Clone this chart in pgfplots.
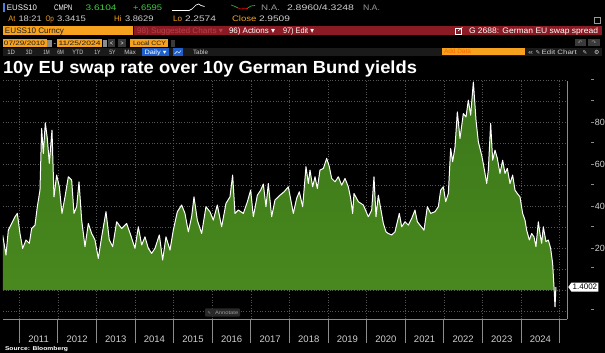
\documentclass[border=0pt]{standalone}
\usepackage{pgfplots}
\pgfplotsset{compat=1.18}
\usepackage{pgfplotstable}
\usepackage{fontspec}
\setmainfont{Liberation Sans}
\newfontfamily\dejavu{DejaVu Sans}
\usetikzlibrary{shapes.symbols}
\newcommand{\hfit}[2]{\resizebox{#1}{\height}{#2}}
\newcommand\tx[6]{\node[anchor=base west,inner sep=0pt,outer sep=0pt,text=#4,font={#5}] at (#1,-#2) {\hfit{#3pt}{#6}};}
\newcommand\fa{\fontsize{8}{9}\selectfont}
\newcommand\fb{\fontsize{6.3}{7}\selectfont}
\definecolor{bborange}{HTML}{F6A21E}
\definecolor{bbred}{HTML}{8A1A23}
\definecolor{bbgreen}{HTML}{3FCF3F}
\definecolor{axgrey}{HTML}{8C8C8C}
\definecolor{gridgrey}{HTML}{555555}
\definecolor{txtgrey}{HTML}{D0D0D0}
\definecolor{dimgrey}{HTML}{9A9A9A}
\definecolor{bbblue}{HTML}{1E5FCC}
\definecolor{filltop}{HTML}{3B761A}
\definecolor{fillbot}{HTML}{4A8A1E}
\definecolor{darkband}{HTML}{1A1A1A}
\definecolor{btn}{HTML}{3A3A3A}
\definecolor{dimred}{HTML}{B8404A}
\definecolor{darktxt}{HTML}{1E1E1E}
\newcommand\ytl[1]{\textcolor{axgrey}{\rule[2.4pt]{3pt}{0.8pt}}\hspace{0.8pt}#1}

\pgfplotstableread{
yr val
2010.569 26.3
2010.655 16.7
2010.716 28.6
2010.802 31.8
2010.889 35.0
2010.949 36.6
2011.018 27.0
2011.087 19.9
2011.174 23.9
2011.260 22.3
2011.320 29.4
2011.407 31.0
2011.467 39.8
2011.536 47.7
2011.579 77.2
2011.623 65.2
2011.674 79.9
2011.726 72.4
2011.778 60.5
2011.847 76.4
2011.899 44.5
2011.968 54.9
2012.037 49.3
2012.106 36.6
2012.184 44.5
2012.270 54.1
2012.357 52.5
2012.417 36.6
2012.486 39.8
2012.547 51.7
2012.616 33.4
2012.702 20.7
2012.788 31.8
2012.875 27.0
2012.961 23.9
2013.047 15.1
2013.134 25.4
2013.246 37.4
2013.332 23.9
2013.419 20.7
2013.522 32.6
2013.652 29.4
2013.781 31.8
2013.885 26.3
2013.997 19.9
2014.084 30.2
2014.170 21.5
2014.256 25.4
2014.343 19.9
2014.429 17.5
2014.515 19.9
2014.628 26.3
2014.714 14.3
2014.800 25.4
2014.904 19.1
2014.990 28.6
2015.094 37.4
2015.206 40.6
2015.292 36.6
2015.379 27.8
2015.465 35.0
2015.526 44.5
2015.612 33.4
2015.724 27.0
2015.836 39.8
2015.940 37.4
2016.026 33.4
2016.130 40.6
2016.242 30.2
2016.355 41.4
2016.458 44.5
2016.527 54.9
2016.588 36.6
2016.674 38.2
2016.804 36.6
2016.908 42.1
2016.994 47.7
2017.063 35.0
2017.167 45.3
2017.253 47.7
2017.322 50.6
2017.391 39.8
2017.451 50.9
2017.538 35.0
2017.624 43.0
2017.754 45.3
2017.858 46.9
2017.970 49.3
2018.099 36.6
2018.185 43.8
2018.254 46.9
2018.341 39.8
2018.427 58.9
2018.488 50.9
2018.531 57.3
2018.600 49.3
2018.661 54.1
2018.721 48.5
2018.790 57.3
2018.877 58.1
2018.963 62.9
2019.032 58.9
2019.092 53.3
2019.179 51.7
2019.265 54.1
2019.351 50.1
2019.438 53.3
2019.524 49.3
2019.585 43.8
2019.636 36.6
2019.671 46.1
2019.783 42.2
2019.913 40.6
2020.042 35.0
2020.129 38.2
2020.189 54.1
2020.241 35.0
2020.301 45.3
2020.362 39.0
2020.431 31.8
2020.500 27.8
2020.560 27.0
2020.647 26.3
2020.733 27.8
2020.845 36.6
2020.906 30.2
2020.992 32.6
2021.079 31.0
2021.165 34.2
2021.251 38.2
2021.312 32.6
2021.381 31.0
2021.484 28.6
2021.571 39.8
2021.657 36.6
2021.769 37.4
2021.856 39.8
2021.916 47.7
2021.985 49.3
2022.046 42.2
2022.115 46.1
2022.175 67.6
2022.227 61.3
2022.288 68.4
2022.348 85.1
2022.417 72.4
2022.503 84.3
2022.573 82.7
2022.633 90.7
2022.693 83.5
2022.763 99.4
2022.832 81.1
2022.892 70.8
2022.978 64.4
2023.004 62.0
2023.065 55.7
2023.108 50.9
2023.151 57.3
2023.211 79.6
2023.263 62.0
2023.324 66.8
2023.384 62.9
2023.453 55.7
2023.522 62.0
2023.583 55.7
2023.643 58.1
2023.712 50.9
2023.781 54.9
2023.842 47.7
2023.902 46.1
2023.971 44.5
2024.040 36.6
2024.101 33.4
2024.144 28.6
2024.213 23.9
2024.273 27.0
2024.334 25.4
2024.385 20.7
2024.446 32.6
2024.489 27.0
2024.532 22.3
2024.575 30.2
2024.644 23.1
2024.705 23.9
2024.765 19.9
2024.817 12.7
2024.852 1.6
2024.878 -8.0
2024.903 1.4
}\spread

\begin{document}
\begin{tikzpicture}[x=1pt,y=1pt]
\fill[black] (0,0) rectangle (605,-353);
\useasboundingbox (0,0) rectangle (605,-353);

% ---- Row 1
\fill[bbblue!80!white] (3,-3.5) rectangle (5.3,-12);
\tx{7}{10.7}{30}{white}{\fa}{EUSS10}
\tx{54}{10.7}{18.5}{white}{\fa}{CMPN}
\tx{85.6}{10.7}{31}{bbgreen}{\fa}{3.6104}
\tx{133}{10.7}{29}{bbgreen}{\fa}{+.6595}
\draw[white,line width=0.7pt] (172,-10.5) -- (189,-10.5) -- (192,-9) -- (196,-5) -- (198.7,-4) -- (201,-5.5) -- (204.5,-6.5);
\draw[bbgreen!80!black,line width=0.7pt] (231,-5) -- (235,-6.5) -- (238,-8);
\draw[red!80!black,line width=0.7pt] (238,-8) -- (241,-9) -- (244,-8.3) -- (247,-8.5);
\draw[bbgreen!80!black,line width=0.7pt] (247,-8.5) -- (251,-6) -- (255,-5.5);
\tx{261}{10.7}{19}{dimgrey}{\fa}{N.A.}
\tx{287}{10.7}{67}{txtgrey}{\fa}{2.8960/4.3248}
\tx{363}{10.7}{17}{dimgrey}{\fa}{N.A.}

% ---- Row 2
\tx{8.5}{22}{7}{bborange}{\fa}{At}
\tx{18.5}{22}{23.2}{txtgrey}{\fa}{18:21}
\tx{45.5}{22}{8.5}{bborange}{\fa}{Op}
\tx{57}{22}{29}{txtgrey}{\fa}{3.3415}
\tx{114}{22}{7.5}{bborange}{\fa}{Hi}
\tx{125}{22}{28.5}{txtgrey}{\fa}{3.8629}
\tx{173}{22}{9}{bborange}{\fa}{Lo}
\tx{185}{22}{31}{txtgrey}{\fa}{2.2574}
\tx{232}{22}{24.5}{bborange}{\fa}{Close}
\tx{259}{22}{31}{txtgrey}{\fa}{2.9509}
\draw[dimgrey,line width=0.5pt] (594.5,-17.5) rectangle (600.5,-23.5);

% ---- Row 3
\fill[bborange] (3,-26) rectangle (133,-35.3);
\fill[bbred] (133.5,-26) rectangle (602,-35.3);
\tx{5}{33.5}{59}{darktxt}{\fa}{EUSS10 Curncy}
\tx{137}{33.5}{86}{dimred}{\fa}{98) Suggested Charts {\dejavu ▾}}
\tx{229}{33.5}{46}{white}{\fa}{96) Actions {\dejavu ▾}}
\tx{283}{33.5}{31}{white}{\fa}{97) Edit {\dejavu ▾}}
\draw[white,line width=0.6pt] (455,-28) rectangle (461.5,-34);
\draw[white,line width=0.6pt] (458,-31) -- (462.5,-27.3);
\tx{469}{33.5}{129}{white}{\fa}{G 2688: German EU swap spread}

% ---- Row 4
\fill[bborange] (2.7,-39.3) rectangle (46.7,-47.3);
\tx{4}{45.8}{41}{darktxt}{\fb}{07/29/2010}
\fill[axgrey] (47.3,-40) rectangle (51.7,-46.7);
\tx{53.5}{45.8}{2.5}{white}{\fb}{-}
\fill[bborange] (57.3,-39.3) rectangle (101.7,-47.3);
\tx{58.5}{45.8}{42}{darktxt}{\fb}{11/25/2024}
\fill[axgrey] (102.7,-40) rectangle (106.7,-46.7);
\fill[btn] (108.3,-39.5) rectangle (115,-47);
\fill[btn] (118,-39.5) rectangle (126,-47);
\tx{110}{45.8}{3}{white}{\fb}{<}
\tx{120.5}{45.8}{3}{white}{\fb}{>}
\fill[bborange] (130,-39.3) rectangle (168.3,-47.3);
\tx{133}{45.8}{33}{darktxt}{\fb}{Local CCY}
\fill[btn] (170.7,-40) rectangle (175,-46.7);
\fill[btn] (575,-39.3) rectangle (585.5,-46.5);
\fill[btn] (588,-39.3) rectangle (600,-46.5);
\node[text=dimgrey,font={\dejavu\fontsize{5.5}{6}\selectfont},inner sep=0pt] at (580.2,-42.9) {↶};
\node[text=dimgrey,font={\dejavu\fontsize{5.5}{6}\selectfont},inner sep=0pt] at (594,-42.9) {↷};

% ---- Row 5
\fill[darkband] (3,-48.3) rectangle (602,-56.3);
\tx{7.3}{54.5}{7.7}{txtgrey}{\fb}{1D}
\tx{26}{54.5}{6.5}{txtgrey}{\fb}{3D}
\tx{43.3}{54.5}{6.5}{txtgrey}{\fb}{1M}
\tx{57.3}{54.5}{6.7}{txtgrey}{\fb}{6M}
\tx{72.3}{54.5}{11}{txtgrey}{\fb}{YTD}
\tx{94.3}{54.5}{6.4}{txtgrey}{\fb}{1Y}
\tx{109.3}{54.5}{6.4}{txtgrey}{\fb}{5Y}
\tx{124.3}{54.5}{11.5}{txtgrey}{\fb}{Max}
\fill[bbblue] (141.7,-48.3) rectangle (169.3,-56.3);
\tx{144.5}{54.5}{22}{white}{\fb}{Daily {\dejavu ▾}}
\fill[bbblue] (172.7,-48.5) rectangle (182.7,-56);
\draw[white,line width=0.4pt] (174.5,-54) -- (177,-51.5) -- (179,-53) -- (181,-50.5);
\tx{193}{54.5}{15}{txtgrey}{\fb}{Table}
\fill[bborange] (442.3,-47.7) rectangle (525,-55.3);
\tx{444}{54}{27}{orange!80!red}{\fb}{Add Data}
\tx{528}{54.3}{5}{txtgrey}{\fb}{«}
\node[anchor=base west,inner sep=0pt,text=txtgrey,font={\dejavu\fontsize{5.5}{6}\selectfont}] at (535.5,-54.3) {✎};
\tx{541.7}{54.3}{35}{txtgrey}{\fb}{Edit Chart}
\node[anchor=base west,inner sep=0pt,text=txtgrey,font={\dejavu\fontsize{5.5}{6}\selectfont}] at (582.5,-54.3) {✎};
\node[anchor=base west,inner sep=0pt,text=txtgrey,font={\dejavu\fontsize{6}{6}\selectfont}] at (594,-54.3) {⚙};

% ---- Title
\tx{3}{73.5}{414}{white}{\bfseries\fontsize{17.5}{20}\selectfont}{10y EU swap rate over 10y German Bund yields}

% ---- Chart
\begin{axis}[
  at={(3pt,-319.3pt)}, anchor=south west,
  width=564pt, height=238.6pt, scale only axis,
  xmin=2010.578, xmax=2025.189, ymin=-14, ymax=100,
  axis x line*=bottom, axis y line*=right,
  x axis line style={draw=axgrey, line width=1.3pt},
  y axis line style={draw=axgrey, line width=0.8pt},
  major tick length=24pt, tick align=outside,
  xtick={2011,2012,...,2025},
  xticklabels={2011,2012,2013,2014,2015,2016,2017,2018,2019,2020,2021,2022,2023,2024,},
  xtick style={draw=axgrey, line width=1pt},
  xticklabel style={xshift=19.3pt, yshift=11pt, anchor=north, font=\fontsize{9.5}{10}\selectfont, text=txtgrey},
  ytick={-10,0,10,20,30,40,50,60,70,80,90,100},
  yticklabels={\ytl{},\ytl{},\ytl{},\ytl{20},\ytl{},\ytl{40},\ytl{},\ytl{60},\ytl{},\ytl{80},\ytl{},\ytl{}},
  ytick style={draw=none},
  yticklabel style={anchor=west, inner sep=0pt, xshift=0pt, font=\fontsize{9}{10}\selectfont, text=txtgrey},
  grid=major,
  major grid style={draw=gridgrey, line width=0.7pt, dash pattern=on 0.9pt off 1.8pt},
  axis background/.style={fill=black},
]
\addplot[draw=none, top color=filltop, bottom color=fillbot] table[x=yr,y=val]{\spread} \closedcycle;
\addplot[white, line width=1pt, line join=round] table[x=yr,y=val]{\spread};
\coordinate (lastv) at (axis cs:2025.189,1.4);
\end{axis}

\node[signal, signal to=west, signal pointer angle=110, fill=white, text=black, font=\fontsize{8}{9}\selectfont, inner sep=1.3pt, anchor=west, minimum height=9pt] at ([xshift=1pt]lastv) {1.4002};

% Annotate button
\fill[btn!70!black, rounded corners=1pt] (205,-308.3) rectangle (240,-316.7);
\node[anchor=base west,inner sep=0pt,text=dimgrey,font={\dejavu\fontsize{4}{5}\selectfont}] at (207.5,-314.5) {✎};
\tx{215}{314.6}{23.3}{dimgrey}{\fontsize{5}{6}\selectfont}{Annotate}

% Source
\tx{5}{350.5}{63}{white}{\bfseries\fontsize{5.5}{6}\selectfont}{Source: Bloomberg}
\end{tikzpicture}
\end{document}
